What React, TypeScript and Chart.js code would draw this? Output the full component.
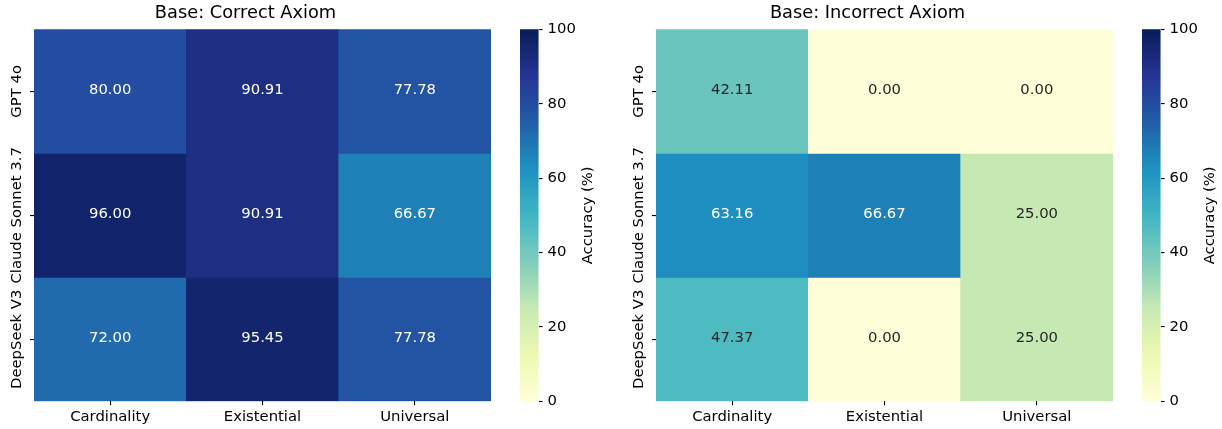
import React, { useEffect, useRef } from 'react';
import { Chart, registerables } from 'chart.js';

Chart.register(...registerables);

// ---------- data ----------
const models = ['GPT 4o', 'Claude Sonnet 3.7', 'DeepSeek V3'];
const axiomTypes = ['Cardinality', 'Existential', 'Universal'];

const correctGpt = [80.0, 90.91, 77.78];
const correctClaude = [96.0, 90.91, 66.67];
const correctDeepseek = [72.0, 95.45, 77.78];

const incorrectGpt = [42.11, 0.0, 0.0];
const incorrectClaude = [63.16, 66.67, 25.0];
const incorrectDeepseek = [47.37, 0.0, 25.0];

const colorbarTicks = [0, 20, 40, 60, 80, 100];
const panelTitles = ['Base: Correct Axiom', 'Base: Incorrect Axiom'];
const colorbarLabel = 'Accuracy (%)';
const vMin = 0;
const vMax = 100;

// ---------- colormap (YlGnBu) ----------
const YLGNBU = ['#ffffd9', '#edf8b1', '#c7e9b4', '#7fcdbb', '#41b6c4', '#1d91c0', '#225ea8', '#253494', '#081d58'];
const hexToRgb = (h: string) => [parseInt(h.slice(1, 3), 16), parseInt(h.slice(3, 5), 16), parseInt(h.slice(5, 7), 16)];
const STOPS = YLGNBU.map(hexToRgb);

function cmapRgb(v: number): number[] {
  let t = (v - vMin) / (vMax - vMin);
  t = Math.max(0, Math.min(1, t));
  const idx = Math.min(255, Math.floor(t * 256));
  const tt = idx / 255;
  const pos = tt * (STOPS.length - 1);
  const i = Math.min(STOPS.length - 2, Math.floor(pos));
  const f = pos - i;
  return [0, 1, 2].map((k) => Math.round(STOPS[i][k] + (STOPS[i + 1][k] - STOPS[i][k]) * f));
}
const cmap = (v: number) => {
  const [r, g, b] = cmapRgb(v);
  return `rgb(${r},${g},${b})`;
};
function luminance(v: number) {
  const rgb = cmapRgb(v).map((c) => {
    const s = c / 255;
    return s <= 0.03928 ? s / 12.92 : Math.pow((s + 0.055) / 1.055, 2.4);
  });
  return 0.2126 * rgb[0] + 0.7152 * rgb[1] + 0.0722 * rgb[2];
}

const FONT = 'DejaVu Sans';
const TICK_SIZE = 14.8;
const TITLE_SIZE = 17.8;

Chart.defaults.font.family = FONT;

function Panel({ left, title, rows }: { left: number; title: string; rows: number[][] }) {
  const hmRef = useRef<HTMLCanvasElement>(null);
  const cbRef = useRef<HTMLCanvasElement>(null);

  useEffect(() => {
    const annotate = {
      id: 'annotate',
      afterDatasetsDraw(chart: any) {
        const ctx = chart.ctx;
        ctx.save();
        ctx.font = `${TICK_SIZE}px "${FONT}"`;
        ctx.textAlign = 'center';
        ctx.textBaseline = 'middle';
        rows.forEach((vals, r) => {
          const meta = chart.getDatasetMeta(r);
          meta.data.forEach((el: any, c: number) => {
            const p = el.getCenterPoint();
            const v = vals[c];
            ctx.fillStyle = luminance(v) > 0.408 ? '#262626' : '#ffffff';
            ctx.fillText(v.toFixed(2), p.x, p.y - 1.3);
          });
        });
        ctx.restore();
      },
      afterDraw(chart: any) {
        const ctx = chart.ctx;
        const ys = chart.scales.y;
        ctx.save();
        ctx.font = `${TICK_SIZE}px "${FONT}"`;
        ctx.fillStyle = '#000';
        ctx.textAlign = 'center';
        ctx.textBaseline = 'alphabetic';
        models.forEach((m, i) => {
          const y = ys.getPixelForValue(i + 0.5);
          ctx.save();
          ctx.translate(21.3, y);
          ctx.rotate(-Math.PI / 2);
          ctx.fillText(m, 0, 0);
          ctx.restore();
        });
        ctx.restore();
      },
    };

    const hm = new Chart(hmRef.current as HTMLCanvasElement, {
      type: 'bar',
      data: {
        labels: axiomTypes,
        datasets: rows.map((vals, r) => ({
          label: models[r],
          data: vals.map(() => [r, r + 1]) as any,
          backgroundColor: vals.map((v) => cmap(v)),
          borderWidth: 0,
          barPercentage: 1,
          categoryPercentage: 1,
          grouped: false,
        })) as any,
      },
      options: {
        responsive: false,
        maintainAspectRatio: false,
        animation: false,
        devicePixelRatio: 1,
        layout: { padding: { left: 0, right: 9, top: 0, bottom: 0 } },
        plugins: {
          legend: { display: false },
          tooltip: { enabled: false },
          title: {
            display: true,
            text: title,
            color: '#000',
            font: { family: FONT, size: TITLE_SIZE, weight: 'normal' as any },
            padding: { top: 3, bottom: 5 },
          },
        },
        scales: {
          x: {
            type: 'category',
            offset: true,
            grid: { offset: false, drawOnChartArea: false, drawTicks: true, tickLength: 4, color: '#000', lineWidth: 1.1 },
            border: { display: false },
            ticks: { color: '#000', font: { family: FONT, size: TICK_SIZE }, padding: 3, maxRotation: 0, autoSkip: false },
            afterFit: (s: any) => {
              s.height = 27.7;
            },
          },
          y: {
            type: 'linear',
            min: 0,
            max: 3,
            reverse: true,
            afterBuildTicks: (s: any) => {
              s.ticks = models.map((_, i) => ({ value: i + 0.5 }));
            },
            ticks: { display: false },
            grid: { drawOnChartArea: false, drawTicks: true, tickLength: 4, color: '#000', lineWidth: 1.1 },
            border: { display: false },
            afterFit: (s: any) => {
              s.width = 34;
            },
          },
        },
      } as any,
      plugins: [annotate],
    });

    const cbLabel = {
      id: 'cbLabel',
      afterDraw(chart: any) {
        const ctx = chart.ctx;
        const a = chart.chartArea;
        ctx.save();
        ctx.font = `${TICK_SIZE}px "${FONT}"`;
        ctx.fillStyle = '#000';
        ctx.textAlign = 'center';
        ctx.textBaseline = 'middle';
        ctx.translate(88, (a.top + a.bottom) / 2);
        ctx.rotate(-Math.PI / 2);
        ctx.fillText(colorbarLabel, 0, 0);
        ctx.restore();
      },
    };

    const cb = new Chart(cbRef.current as HTMLCanvasElement, {
      type: 'bar',
      data: {
        labels: [''],
        datasets: [
          {
            data: [[vMin, vMax]] as any,
            backgroundColor: (c: any) => {
              const chart = c.chart;
              const area = chart.chartArea;
              if (!area) return 'rgba(0,0,0,0)';
              const g = chart.ctx.createLinearGradient(0, area.bottom, 0, area.top);
              YLGNBU.forEach((col, i) => g.addColorStop(i / (YLGNBU.length - 1), col));
              return g;
            },
            borderWidth: 0,
            barPercentage: 1,
            categoryPercentage: 1,
          },
        ],
      },
      options: {
        responsive: false,
        maintainAspectRatio: false,
        animation: false,
        devicePixelRatio: 1,
        layout: { padding: { left: 20, right: 0, top: 29.36, bottom: 27.7 } },
        plugins: { legend: { display: false }, tooltip: { enabled: false }, title: { display: false } },
        scales: {
          x: { display: false },
          y: {
            position: 'right',
            min: vMin,
            max: vMax,
            afterBuildTicks: (s: any) => {
              s.ticks = colorbarTicks.map((v) => ({ value: v }));
            },
            ticks: { color: '#000', font: { family: FONT, size: TICK_SIZE }, padding: 5 },
            grid: { drawOnChartArea: false, drawTicks: true, tickLength: 4, color: '#000', lineWidth: 1.1 },
            border: { display: false },
            afterFit: (s: any) => {
              s.width = 61.4;
            },
          },
        },
      } as any,
      plugins: [cbLabel],
    });

    return () => {
      hm.destroy();
      cb.destroy();
    };
  }, []);

  return (
    <>
      <canvas
        ref={hmRef}
        width={500}
        height={429}
        style={{ position: 'absolute', left, top: 0, width: 500, height: 429, display: 'block' }}
      />
      <canvas
        ref={cbRef}
        width={100}
        height={429}
        style={{ position: 'absolute', left: left + 500, top: 0, width: 100, height: 429, display: 'block' }}
      />
    </>
  );
}

export default function App() {
  return (
    <div
      style={{
        position: 'absolute',
        left: 0,
        top: 0,
        width: 1222,
        height: 429,
        background: '#ffffff',
        overflow: 'hidden',
      }}
    >
      <Panel left={0} title={panelTitles[0]} rows={[correctGpt, correctClaude, correctDeepseek]} />
      <Panel left={622} title={panelTitles[1]} rows={[incorrectGpt, incorrectClaude, incorrectDeepseek]} />
    </div>
  );
}
